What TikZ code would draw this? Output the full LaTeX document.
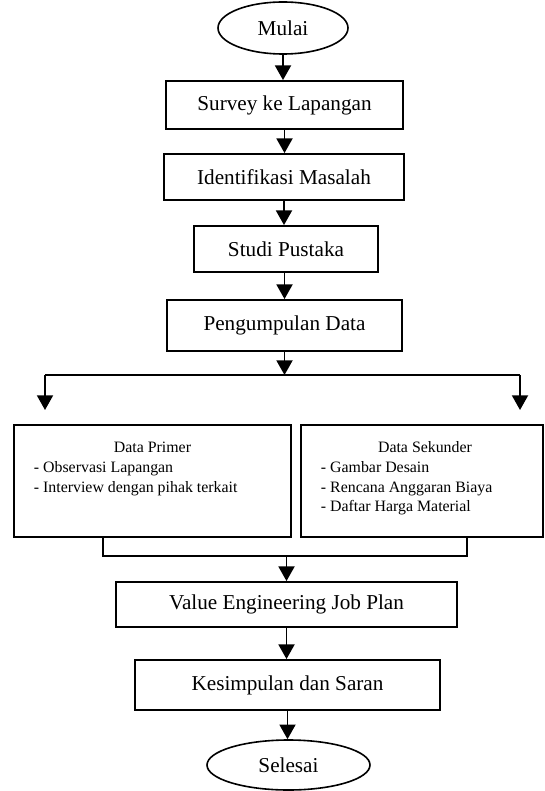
\documentclass[tikz,border=0pt]{standalone}
\usepackage{fontspec}
\setmainfont{Liberation Serif}
\usepackage{tikz}
\usetikzlibrary{shapes, positioning, arrows.meta}

\newcommand{\stepfont}{\fontsize{15.9}{19}\selectfont}
\newcommand{\datafont}{\fontsize{11.9}{14.6}\selectfont}

\begin{document}
\begin{tikzpicture}[
          x=0.75pt, y=-0.75pt,
          line width=1.4pt,
          terminal/.style={draw, ellipse, line width=1.2pt, inner sep=0pt, font=\stepfont},
          stepbox/.style={draw, rectangle, inner sep=0pt, font=\stepfont},
          databox/.style={draw, rectangle, inner sep=0pt},
          datatext/.style={inner sep=0pt, font=\datafont, align=left},
          arr/.style={-{Triangle[width=12pt, length=11pt]}}
        ]
        \useasboundingbox (0,0) rectangle (545,791);

        % langkah utama
        \node[terminal, minimum width=97.5pt, minimum height=39pt] (mulai) at (283,28) {Mulai};
        \node[stepbox, minimum width=177.75pt, minimum height=36pt] (survey) at (284.5,105) {Survey ke Lapangan\hspace{15pt}};
        \node[stepbox, minimum width=180pt, minimum height=34.5pt] (identifikasi) at (284,177) {Identifikasi Masalah};
        \node[stepbox, minimum width=138pt, minimum height=34.5pt] (studi) at (286,249) {Studi Pustaka\hspace{18pt}};
        \node[stepbox, minimum width=176.25pt, minimum height=38.25pt] (pengumpulan) at (284.5,325.5) {Pengumpulan Data};

        % data
        \node[databox, minimum width=207.75pt, minimum height=84pt] (primer) at (152.5,481) {};
        \node[databox, minimum width=181.5pt, minimum height=84pt] (sekunder) at (422,481) {};
        \node[datatext, anchor=center] (primerjudul) at (152.5,447) {Data Primer};
        \node[datatext, anchor=north west] (primerisi) at (33,461) {- Observasi Lapangan\\- Interview dengan pihak terkait};
        \node[datatext, anchor=center] (sekunderjudul) at (425,447) {Data Sekunder};
        \node[datatext, anchor=north west] (sekunderisi) at (320,461) {- Gambar Desain\\- Rencana Anggaran Biaya\\- Daftar Harga Material};

        \node[stepbox, minimum width=255.75pt, minimum height=33.75pt] (value) at (286.5,604.5) {Value Engineering Job Plan};
        \node[stepbox, minimum width=228.75pt, minimum height=37.5pt] (kesimpulan) at (287.5,685) {Kesimpulan dan Saran};
        \node[terminal, minimum width=122.25pt, minimum height=37.5pt] (selesai) at (288.5,765) {Selesai};

        % titik percabangan
        \coordinate (split) at (284.5,375);
        \coordinate (splitL) at (45,375);
        \coordinate (splitR) at (520,375);
        \coordinate (tipL) at (45,410);
        \coordinate (tipR) at (520,410);
        \coordinate (joinL) at (103,556);
        \coordinate (joinR) at (467,556);

        \draw[arr] (mulai.south) -- (mulai.south |- survey.north);
        \draw[arr] (survey.south) -- (survey.south |- identifikasi.north);
        \draw[arr] (identifikasi.south) -- (identifikasi.south |- studi.north);
        \draw[arr] (studi.south -| pengumpulan.north) -- (pengumpulan.north);
        \draw[arr] (pengumpulan.south) -- (split);
        \draw (splitL) -- (splitR);
        \draw[arr] (splitL) -- (tipL);
        \draw[arr] (splitR) -- (tipR);
        \draw (joinL |- primer.south) -- (joinL) -- (joinR) -- (joinR |- sekunder.south);
        \draw[arr] (value.north |- joinL) -- (value.north);
        \draw[arr] (value.south) -- (value.south |- kesimpulan.north);
        \draw[arr] (kesimpulan.south) -- (kesimpulan.south |- selesai.north);

        \end{tikzpicture}
\end{document}
